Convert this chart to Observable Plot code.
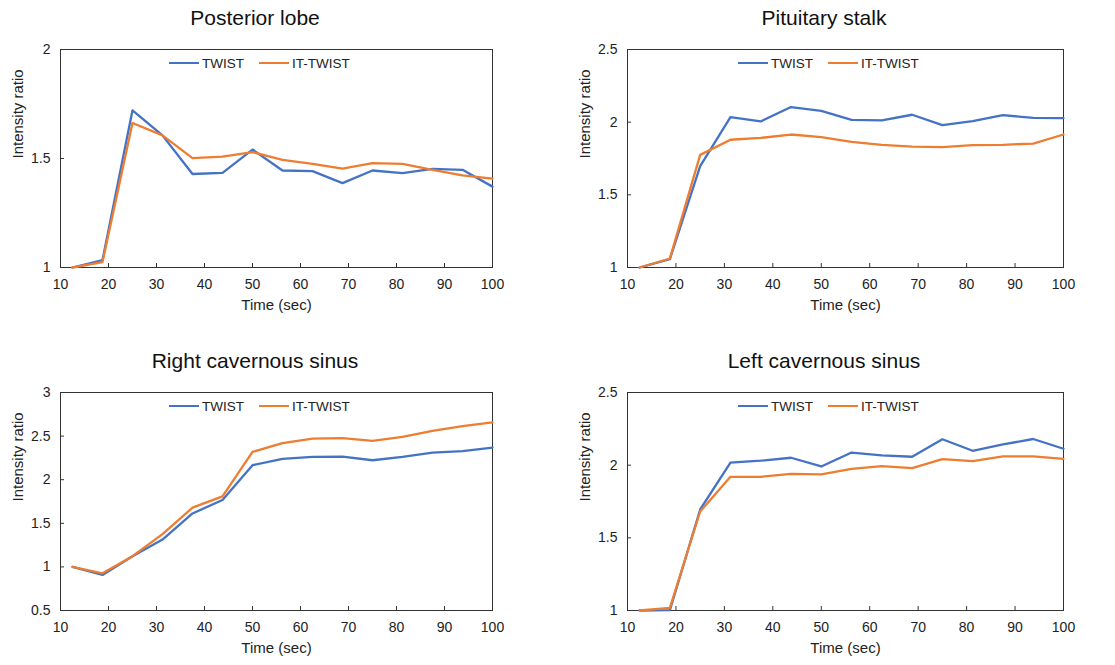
<!DOCTYPE html>
<html><head><meta charset="utf-8">
<script src="https://cdn.jsdelivr.net/npm/d3@7"></script>
<script src="https://cdn.jsdelivr.net/npm/@observablehq/plot@0.6"></script>
<style>
body{margin:0;background:#fff;}
#root{position:relative;width:1115px;height:665px;font-family:"Liberation Sans",Arial,sans-serif;color:#111;overflow:hidden;}
.panel{position:absolute;}
.panel svg{position:absolute;top:30px;left:0;}
.title{position:absolute;top:6px;font-size:21px;line-height:24px;transform:translateX(-50%);white-space:nowrap;}
.legend{position:absolute;display:flex;align-items:center;font-size:13.5px;line-height:15px;white-space:nowrap;color:#222;}
.sw{display:inline-block;width:30px;height:2.5px;margin-right:3px;}
.gap{display:inline-block;width:15px;}
</style></head><body><div id="root"></div>
<script>
// ---- data ----
const time = [12.5, 18.75, 25, 31.25, 37.5, 43.75, 50, 56.25, 62.5, 68.75, 75, 81.25, 87.5, 93.75, 100];
const seriesNames = ["TWIST", "IT-TWIST"];
const seriesColors = ["#4472C4", "#ED7D31"];
const xTicks = [10, 20, 30, 40, 50, 60, 70, 80, 90, 100];

const titles = ["Posterior lobe", "Pituitary stalk", "Right cavernous sinus", "Left cavernous sinus"];

const posteriorTwist   = [1.00, 1.034, 1.721, 1.606, 1.429, 1.434, 1.541, 1.445, 1.442, 1.387, 1.445, 1.433, 1.452, 1.448, 1.371];
const posteriorIT      = [1.00, 1.025, 1.663, 1.606, 1.502, 1.509, 1.529, 1.494, 1.475, 1.454, 1.479, 1.475, 1.448, 1.423, 1.408];

const stalkTwist       = [1.00, 1.058, 1.697, 2.035, 2.005, 2.104, 2.078, 2.016, 2.012, 2.051, 1.980, 2.007, 2.048, 2.030, 2.028];
const stalkIT          = [1.00, 1.062, 1.775, 1.879, 1.892, 1.915, 1.897, 1.864, 1.844, 1.832, 1.828, 1.842, 1.844, 1.853, 1.915];

const rightSinusTwist  = [1.00, 0.908, 1.123, 1.314, 1.613, 1.767, 2.166, 2.238, 2.261, 2.265, 2.223, 2.261, 2.311, 2.327, 2.369];
const rightSinusIT     = [1.00, 0.927, 1.123, 1.376, 1.679, 1.809, 2.319, 2.419, 2.472, 2.476, 2.446, 2.492, 2.561, 2.615, 2.657];

const leftSinusTwist   = [1.00, 1.003, 1.695, 2.017, 2.031, 2.051, 1.991, 2.087, 2.067, 2.058, 2.178, 2.099, 2.143, 2.180, 2.113];
const leftSinusIT      = [1.00, 1.018, 1.681, 1.920, 1.920, 1.940, 1.936, 1.975, 1.993, 1.979, 2.041, 2.028, 2.060, 2.060, 2.044];

const yDomains = [[1, 2], [1, 2.5], [0.5, 3], [1, 2.5]];
const yTicks = [[1, 1.5, 2], [1, 1.5, 2, 2.5], [0.5, 1, 1.5, 2, 2.5, 3], [1, 1.5, 2, 2.5]];
const panelSeries = [
  [posteriorTwist, posteriorIT],
  [stalkTwist, stalkIT],
  [rightSinusTwist, rightSinusIT],
  [leftSinusTwist, leftSinusIT]
];

// ---- layout ----
const layout = [
  {left: 0,   top: 0,   width: 557, ml: 60, mr: 65, titleX: 255, legendX: 169},
  {left: 560, top: 0,   width: 555, ml: 67, mr: 52, titleX: 264, legendX: 178},
  {left: 0,   top: 343, width: 557, ml: 60, mr: 65, titleX: 255, legendX: 169},
  {left: 560, top: 343, width: 555, ml: 67, mr: 52, titleX: 264, legendX: 178}
];
const H = 287, MT = 19, MB = 50;
const font = '"Liberation Sans", Arial, sans-serif';
const frameColor = "#333";

const root = document.getElementById("root");

panelSeries.forEach((series, i) => {
  const L = layout[i];
  const rows = [];
  series.forEach((vals, s) => vals.forEach((v, k) => rows.push({t: time[k], v, series: seriesNames[s]})));
  const innerH = H - MT - MB;
  const innerW = L.width - L.ml - L.mr;

  const chart = Plot.plot({
    width: L.width, height: H,
    marginLeft: L.ml, marginRight: L.mr, marginTop: MT, marginBottom: MB,
    style: {fontFamily: font, fontSize: "14px", color: "#222", background: "transparent", overflow: "visible"},
    x: {domain: [10, 100]},
    y: {domain: yDomains[i]},
    color: {domain: seriesNames, range: seriesColors},
    marks: [
      Plot.frame({stroke: frameColor, strokeWidth: 1}),
      Plot.tickX(xTicks, {x: d => d, insetTop: innerH - 4, stroke: frameColor}),
      Plot.tickY(yTicks[i], {y: d => d, insetRight: innerW - 4, stroke: frameColor}),
      Plot.axisX({ticks: xTicks, tickSize: 0, tickPadding: 12, tickFormat: d => String(d), label: null, fontSize: 14}),
      Plot.axisY({ticks: yTicks[i], tickSize: 0, tickPadding: 10, tickFormat: d => String(d), label: null, fontSize: 14}),
      Plot.text(["Time (sec)"], {text: d => d, frameAnchor: "bottom", dy: 42, fontSize: 15, fill: "#222"}),
      Plot.text(["Intensity ratio"], {text: d => d, frameAnchor: "left", dx: -42, rotate: -90, fontSize: 15, fill: "#222"}),
      Plot.line(rows, {x: "t", y: "v", stroke: "series", z: "series", strokeWidth: 2.3, strokeLinejoin: "round"})
    ]
  });

  const panel = document.createElement("div");
  panel.className = "panel";
  panel.style.left = L.left + "px";
  panel.style.top = L.top + "px";
  panel.style.width = L.width + "px";
  panel.style.height = (H + 30) + "px";

  const title = document.createElement("div");
  title.className = "title";
  title.style.left = L.titleX + "px";
  title.textContent = titles[i];
  panel.appendChild(title);

  panel.appendChild(chart);

  const legend = document.createElement("div");
  legend.className = "legend";
  legend.style.left = L.legendX + "px";
  legend.style.top = (30 + MT + 6.5) + "px";
  seriesNames.forEach((name, s) => {
    if (s > 0) { const g = document.createElement("span"); g.className = "gap"; legend.appendChild(g); }
    const sw = document.createElement("span");
    sw.className = "sw";
    sw.style.background = seriesColors[s];
    legend.appendChild(sw);
    const tx = document.createElement("span");
    tx.textContent = name;
    legend.appendChild(tx);
  });
  panel.appendChild(legend);

  root.appendChild(panel);
});
</script>
</body></html>
